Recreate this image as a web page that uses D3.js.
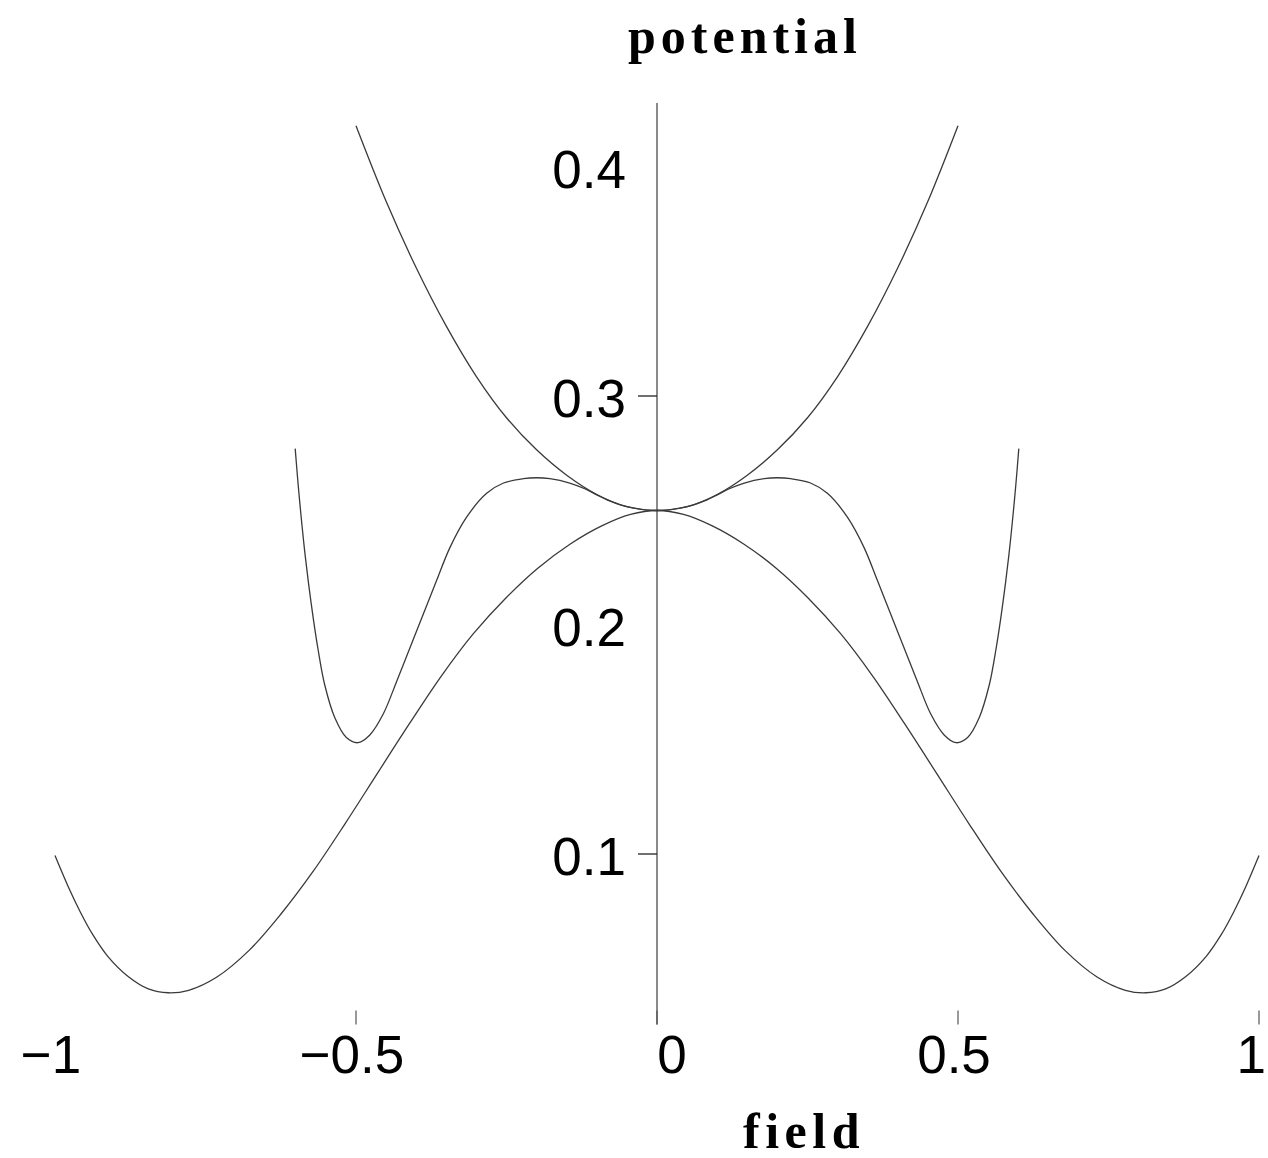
<!DOCTYPE html>
<html>
<head>
<meta charset="utf-8">
<script src="https://cdn.jsdelivr.net/npm/d3@7"></script>
<style>
  html, body { margin: 0; padding: 0; background: #fff; }
  svg { display: block; }
</style>
</head>
<body>
<div id="chart"></div>
<script>
// field values and potential, [field, potential]
var upperCurve = [
  [-0.5, 0.418], [-0.45, 0.385], [-0.4, 0.356], [-0.35, 0.3305], [-0.3, 0.3085],
  [-0.25, 0.2905], [-0.2, 0.2765], [-0.15, 0.2654], [-0.1, 0.2570], [-0.05, 0.2517],
  [0, 0.25],
  [0.05, 0.2517], [0.1, 0.2570], [0.15, 0.2654], [0.2, 0.2765], [0.25, 0.2905],
  [0.3, 0.3085], [0.35, 0.3305], [0.4, 0.356], [0.45, 0.385], [0.5, 0.418]
];

var middleCurve = [
  [-0.601, 0.277], [-0.596, 0.261], [-0.59, 0.2442], [-0.585, 0.2317], [-0.579, 0.2185],
  [-0.571, 0.2029], [-0.563, 0.1893], [-0.552, 0.1739], [-0.535, 0.1594], [-0.516, 0.1509],
  [-0.497, 0.1486], [-0.477, 0.152], [-0.455, 0.161], [-0.432, 0.1757], [-0.41, 0.1903],
  [-0.388, 0.2049], [-0.366, 0.2195], [-0.344, 0.2338], [-0.316, 0.2472], [-0.283, 0.2575],
  [-0.255, 0.2620], [-0.222, 0.2639], [-0.2, 0.2643], [-0.178, 0.2639], [-0.145, 0.2620],
  [-0.12, 0.2595], [-0.1, 0.2568], [-0.08, 0.2543], [-0.06, 0.2524], [-0.04, 0.2511],
  [-0.02, 0.2503], [0, 0.25],
  [0.02, 0.2503], [0.04, 0.2511], [0.06, 0.2524], [0.08, 0.2543], [0.1, 0.2568],
  [0.12, 0.2595], [0.145, 0.2620], [0.178, 0.2639], [0.2, 0.2643], [0.222, 0.2639],
  [0.255, 0.2620], [0.283, 0.2575], [0.316, 0.2472], [0.344, 0.2338], [0.366, 0.2195],
  [0.388, 0.2049], [0.41, 0.1903], [0.432, 0.1757], [0.455, 0.161], [0.477, 0.152],
  [0.497, 0.1486], [0.516, 0.1509], [0.535, 0.1594], [0.552, 0.1739], [0.563, 0.1893],
  [0.571, 0.2029], [0.579, 0.2185], [0.585, 0.2317], [0.59, 0.2442], [0.596, 0.261],
  [0.601, 0.277]
];

var lowerCurve = [
  [-1.0, 0.0993], [-0.978, 0.0857], [-0.958, 0.0747], [-0.938, 0.0651], [-0.912, 0.0552],
  [-0.878, 0.0464], [-0.845, 0.0411], [-0.812, 0.0394], [-0.778, 0.0405], [-0.731, 0.0463],
  [-0.678, 0.0578], [-0.625, 0.0737], [-0.571, 0.0925], [-0.518, 0.1133], [-0.465, 0.1350],
  [-0.411, 0.1570], [-0.358, 0.1778], [-0.305, 0.1962], [-0.251, 0.2118], [-0.198, 0.2248],
  [-0.144, 0.2354], [-0.091, 0.2434], [-0.044, 0.2483], [0, 0.25],
  [0.044, 0.2483], [0.091, 0.2434], [0.144, 0.2354], [0.198, 0.2248], [0.251, 0.2118],
  [0.305, 0.1962], [0.358, 0.1778], [0.411, 0.1570], [0.465, 0.1350], [0.518, 0.1133],
  [0.571, 0.0925], [0.625, 0.0737], [0.678, 0.0578], [0.731, 0.0463], [0.778, 0.0405],
  [0.812, 0.0394], [0.845, 0.0411], [0.878, 0.0464], [0.912, 0.0552], [0.938, 0.0651],
  [0.958, 0.0747], [0.978, 0.0857], [1.0, 0.0993]
];

var xTickLabels = [-1, -0.5, 0, 0.5, 1];
var xTickMarks = [-0.5, 0, 0.5, 1];
var yTickLabels = [0.1, 0.2, 0.3, 0.4];
var yTickMarks = [0.1, 0.3];
var yAxisExtent = [0.0255, 0.428];

var width = 1268,
    height = 1158;

var svg = d3.select("#chart").append("svg")
    .attr("width", width)
    .attr("height", height)
    .style("background", "#fff");

var xScale = d3.scaleLinear()
    .domain([-1, 1])
    .range([55, 1259]);

var yScale = d3.scaleLinear()
    .domain([0.1, 0.4])
    .range([854, 167]);

var x0 = xScale(0),
    yBase = yScale(yAxisExtent[0]);

var format = d3.format("");

// Vertical axis line through field = 0
svg.append("line")
    .attr("x1", x0)
    .attr("x2", x0)
    .attr("y1", yScale(yAxisExtent[1]))
    .attr("y2", yBase)
    .style("stroke", "#8a8a8a")
    .style("stroke-width", 2);

// y ticks
svg.selectAll(".ytick")
    .data(yTickMarks)
  .enter().append("line")
    .attr("class", "ytick")
    .attr("x1", x0 - 19)
    .attr("x2", x0)
    .attr("y1", function(d) { return yScale(d); })
    .attr("y2", function(d) { return yScale(d); })
    .style("stroke", "#222")
    .style("stroke-width", 1.3);

svg.selectAll(".ylabel")
    .data(yTickLabels)
  .enter().append("text")
    .attr("class", "ylabel")
    .attr("x", 626)
    .attr("y", function(d) { return yScale(d); })
    .attr("dy", "0.4em")
    .attr("text-anchor", "end")
    .style("font-family", "'Liberation Sans', Arial, sans-serif")
    .style("font-size", "53px")
    .style("fill", "#000")
    .text(format);

// x ticks (no horizontal line in the original)
svg.selectAll(".xtick")
    .data(xTickMarks)
  .enter().append("line")
    .attr("class", "xtick")
    .attr("x1", function(d) { return xScale(d); })
    .attr("x2", function(d) { return xScale(d); })
    .attr("y1", yBase - 14)
    .attr("y2", yBase)
    .style("stroke", "#555")
    .style("stroke-width", 1.2);

// the "0" sits right of the axis, the last label is kept inside the frame
svg.selectAll(".xlabel")
    .data(xTickLabels)
  .enter().append("text")
    .attr("class", "xlabel")
    .attr("x", function(d) {
      if (d === 0) return xScale(d) + 15;
      if (d === 1) return width - 2;
      return xScale(d) - 4;
    })
    .attr("y", 1073)
    .attr("text-anchor", function(d) { return d === 1 ? "end" : "middle"; })
    .style("font-family", "'Liberation Sans', Arial, sans-serif")
    .style("font-size", "53px")
    .style("fill", "#000")
    .text(format);

// Axis titles
svg.append("text")
    .attr("x", 628)
    .attr("y", 53)
    .style("font-family", "'Liberation Serif', 'Times New Roman', serif")
    .style("font-weight", "bold")
    .style("font-size", "50px")
    .style("letter-spacing", "5px")
    .text("potential");

svg.append("text")
    .attr("x", 743)
    .attr("y", 1148)
    .style("font-family", "'Liberation Serif', 'Times New Roman', serif")
    .style("font-weight", "bold")
    .style("font-size", "50px")
    .style("letter-spacing", "5.5px")
    .text("field");

// Curves
var line = d3.line()
    .x(function(d) { return xScale(d[0]); })
    .y(function(d) { return yScale(d[1]); })
    .curve(d3.curveCatmullRom.alpha(0.5));

svg.selectAll(".curve")
    .data([upperCurve, middleCurve, lowerCurve])
  .enter().append("path")
    .attr("class", "curve")
    .attr("d", line)
    .style("fill", "none")
    .style("stroke", "#3a3a3a")
    .style("stroke-width", 1.3);
</script>
</body>
</html>
